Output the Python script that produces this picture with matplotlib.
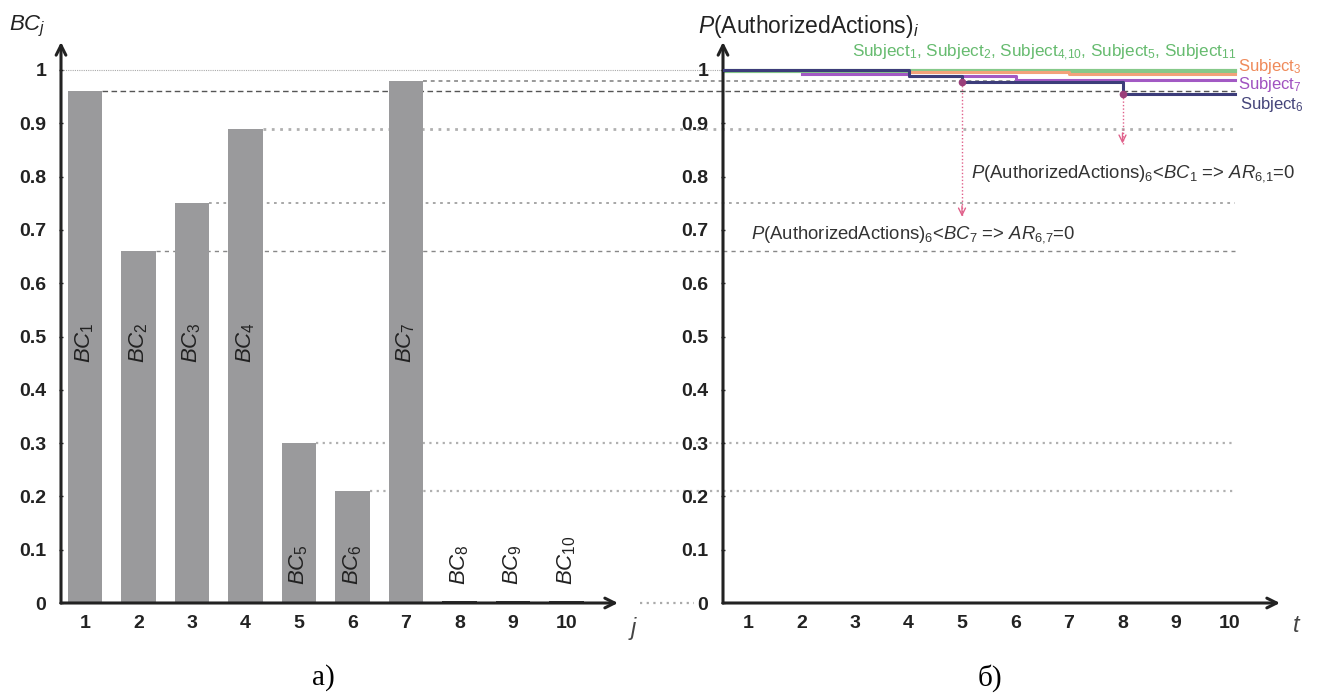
import matplotlib
matplotlib.use('Agg')
import matplotlib.pyplot as plt
from matplotlib import font_manager
from matplotlib.lines import Line2D
import matplotlib.transforms as mtransforms

names = {f.name for f in font_manager.fontManager.ttflist}
NARROW = 'Liberation Sans Narrow' if 'Liberation Sans Narrow' in names else 'Liberation Sans'
SANS = 'Liberation Sans'
SERIF = 'Liberation Serif'

plt.rcParams['font.family'] = [SANS, 'DejaVu Sans']
plt.rcParams['mathtext.fontset'] = 'custom'
plt.rcParams['mathtext.rm'] = SANS
plt.rcParams['mathtext.it'] = SANS + ':italic'
plt.rcParams['mathtext.bf'] = SANS + ':bold'

# ---------------- data ----------------
categories = [1, 2, 3, 4, 5, 6, 7, 8, 9, 10]
bc_values = [0.96, 0.66, 0.75, 0.89, 0.30, 0.21, 0.98, 0.004, 0.004, 0.004]
bc_labels = [r'$BC_{%d}$' % j for j in categories]
y_ticks = [0, 0.1, 0.2, 0.3, 0.4, 0.5, 0.6, 0.7, 0.8, 0.9, 1.0]
y_tick_labels = ['0', '0.1', '0.2', '0.3', '0.4', '0.5', '0.6', '0.7', '0.8', '0.9', '1']
t_values = [1, 2, 3, 4, 5, 6, 7, 8, 9, 10]

# step series P(AuthorizedActions) per subject group (value holds from t until next t)
green_t = [0, 10.1]
green_p = [0.999, 0.999]
orange_t = [4, 7, 10.1]
orange_p = [0.996, 0.993, 0.993]
purple_t = [2, 4, 5, 6, 10.1]
purple_p = [0.993, 0.989, 0.988, 0.982, 0.982]
navy_t = [0, 4, 5, 8, 10.1]
navy_p = [1.0, 0.989, 0.977, 0.955, 0.955]

green_label = r'Subject$_1$, Subject$_2$, Subject$_{4{,}10}$, Subject$_5$, Subject$_{11}$'
orange_label = r'Subject$_3$'
purple_label = r'Subject$_7$'
navy_label = r'Subject$_6$'

viol_t = [5, 8]
viol_from = [0.977, 0.955]
viol_to = [0.725, 0.862]
viol_text = [r'$P$(AuthorizedActions)$_6$<$BC_7$ => $AR_{6{,}7}$=0',
             r'$P$(AuthorizedActions)$_6$<$BC_1$ => $AR_{6{,}1}$=0']

# ---------------- layout ----------------
W, H = 1317, 697
fig = plt.figure(figsize=(W / 100, H / 100), dpi=100)
PX = 53.5          # pixels per unit on x
Y0, YTOP = 603, 42  # pixel rows of y=0 and arrow tip
PY = 533.0


def axpos(x0, x1):
    return [x0 / W, (H - Y0) / H, (x1 - x0) / W, (Y0 - YTOP) / H]


ax1 = fig.add_axes(axpos(61, 618))
ax2 = fig.add_axes(axpos(723, 1280))
ax1.set_xlim(1 + (61 - 85) / PX, 1 + (618 - 85) / PX)
ax2.set_xlim(1 + (723 - 748) / PX, 1 + (1280 - 748) / PX)
ymax = (Y0 - YTOP) / PY

AXC = '#222222'
for ax in (ax1, ax2):
    ax.set_ylim(0, ymax)
    ax.set_facecolor('none')
    for s in ax.spines.values():
        s.set_visible(False)
    ax.set_yticks(y_ticks)
    ax.set_yticklabels(y_tick_labels)
    ax.set_xticks(t_values)
    ax.set_xticklabels([str(c) for c in categories])
    ax.tick_params(axis='y', length=3, width=1, direction='inout', pad=9, colors=AXC)
    ax.tick_params(axis='x', length=0, pad=9, colors=AXC)
    for lab in ax.get_xticklabels() + ax.get_yticklabels():
        lab.set_fontweight('bold')
        lab.set_fontsize(14)
        lab.set_color('#222222')
    arrow = dict(arrowstyle='->,head_length=0.7,head_width=0.35', lw=2.2, color=AXC,
                 shrinkA=0, shrinkB=0)
    ax.annotate('', xy=(1, 0), xytext=(0, 0), xycoords='axes fraction',
                textcoords='axes fraction', arrowprops=arrow, annotation_clip=False)
    ax.annotate('', xy=(0, 1), xytext=(0, 0), xycoords='axes fraction',
                textcoords='axes fraction', arrowprops=arrow, annotation_clip=False)

# ---------------- left: bars ----------------
bar_w = 0.65
bar_colors = ['#9a9a9c' if v > 0.01 else '#333333' for v in bc_values]
ax1.bar(categories, bc_values, width=bar_w, color=bar_colors, zorder=2)
for c, v, lab in zip(categories, bc_values, bc_labels):
    y = 0.45 if v > 0.55 else 0.033
    ax1.text(c, y, lab, rotation=90, ha='center', va='bottom', fontsize=16,
             color='#222222', zorder=3)


# ---------------- reference lines across both panels ----------------
def fig_x(ax, x):
    return ax.transData.transform((x, 0))[0] / fig.bbox.width


trans = mtransforms.blended_transform_factory(fig.transFigure, ax1.transData)
t_end = 10.1
x_end = fig_x(ax2, t_end)
ref_styles = {
    0: dict(ls=(0, (4, 2.5)), color='#555555', lw=1.0),
    1: dict(ls=(0, (3, 3)), color='#888888', lw=1.0),
    2: dict(ls=(0, (1.5, 2.5)), color='#a0a0a0', lw=1.3),
    3: dict(ls=(0, (1, 2)), color='#b0b0b0', lw=2.0),
    4: dict(ls=(0, (1, 2)), color='#b0b0b0', lw=1.6),
    5: dict(ls=(0, (1, 2)), color='#b0b0b0', lw=1.6),
    6: dict(ls=(0, (2, 2)), color='#999999', lw=1.4),
}
for i, (c, v) in enumerate(zip(categories, bc_values)):
    if v < 0.01:
        continue
    x0 = fig_x(ax1, c + bar_w / 2)
    fig.add_artist(Line2D([x0, x_end], [v, v], transform=trans, zorder=-1,
                          **ref_styles[i]))
# level 1 and level 0 guide lines
fig.add_artist(Line2D([fig_x(ax1, ax1.get_xlim()[0]), x_end], [1.0, 1.0], transform=trans,
                      zorder=-1, ls=(0, (1, 1)), color='#aaaaaa', lw=0.8))
fig.add_artist(Line2D([640 / W, 694 / W], [0, 0], transform=trans, zorder=-1,
                      ls=(0, (1, 2)), color='#aaaaaa', lw=1.6))

# ---------------- right: subject step lines ----------------
GREEN, ORANGE, PURPLE, NAVY, PINK = '#86c98a', '#f2a27a', '#a259c4', '#3d3d7a', '#e0608a'
ax2.step(green_t, green_p, where='post', color=GREEN, lw=3, zorder=2)
ax2.step(orange_t, orange_p, where='post', color=ORANGE, lw=2.2, zorder=3)
ax2.step(purple_t, purple_p, where='post', color=PURPLE, lw=2.2, zorder=4)
ax2.step(navy_t, navy_p, where='post', color=NAVY, lw=2.2, zorder=5)

for t, p0, p1 in zip(viol_t, viol_from, viol_to):
    ax2.plot([t, t], [p0, p1], ls=(0, (1, 1.5)), color=PINK, lw=1.0, zorder=1)
    ax2.annotate('', xy=(t, p1), xytext=(t, p1 + 0.02),
                 arrowprops=dict(arrowstyle='->,head_length=0.5,head_width=0.25',
                                 color=PINK, lw=1.0, shrinkA=0, shrinkB=0))
    ax2.plot([t], [p0], 'o', color='#9a3f7a', ms=4.5, zorder=6)

tb = dict(fontfamily=[NARROW, 'DejaVu Sans'], fontsize=13.3, color='#333333', va='center')
ax2.text(1 + (751 - 748) / PX, 0.692, viol_text[0], ha='left', **tb)
ax2.text(1 + (971 - 748) / PX, 0.805, viol_text[1], ha='left', **tb)

# subject labels
fig.text(852 / W, 1 - 53 / H, green_label, color='#66bb6f', fontsize=12.3, ha='left', va='center')
fig.text(1238 / W, 1 - 66 / H, orange_label, color='#ef8a5a', fontsize=12, ha='left', va='center')
fig.text(1238 / W, 1 - 85 / H, purple_label, color='#a052c0', fontsize=12, ha='left', va='center')
fig.text(1240 / W, 1 - 104 / H, navy_label, color='#45457a', fontsize=12, ha='left', va='center')

# axis titles
fig.text(27 / W, 1 - 26 / H, r'$BC_j$', fontsize=16, ha='center', va='center', color='#222222')
fig.text(698 / W, 1 - 27 / H, r'$P$(AuthorizedActions)$_i$', fontsize=16.5, ha='left',
         va='center', color='#222222')
fig.text(633 / W, 1 - 628 / H, r'$j$', fontsize=17, ha='center', va='center', color='#444444')
fig.text(1297 / W, 1 - 626 / H, r'$t$', fontsize=17, ha='center', va='center', color='#444444')

# captions
fig.text(323 / W, 1 - 678 / H, 'a)', fontfamily=SERIF, fontsize=21, ha='center', va='center')
fig.text(990 / W, 1 - 678 / H, 'б)', fontfamily=SERIF, fontsize=21, ha='center', va='center')

fig.savefig('out.png', dpi=100)
